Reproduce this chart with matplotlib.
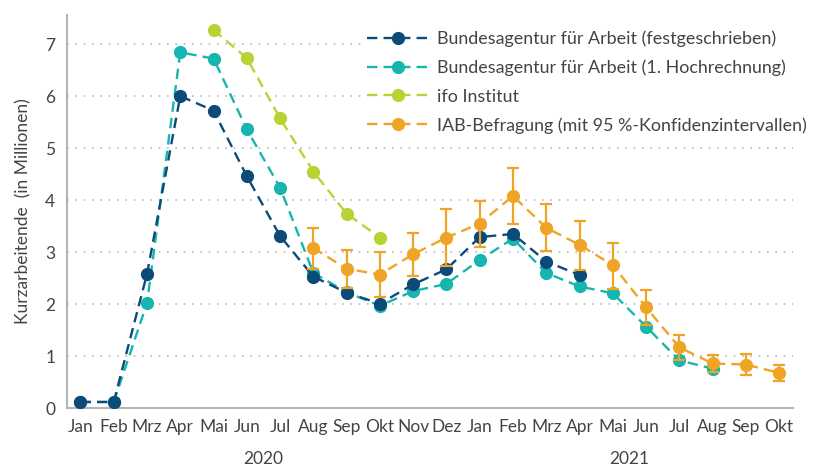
import numpy as np
import matplotlib.pyplot as plt
from matplotlib import transforms

plt.rcParams['font.family'] = ['Lato', 'DejaVu Sans']

# Monate Jan 2020 bis Okt 2021
months = ['Jan', 'Feb', 'Mrz', 'Apr', 'Mai', 'Jun', 'Jul', 'Aug', 'Sep', 'Okt', 'Nov', 'Dez',
          'Jan', 'Feb', 'Mrz', 'Apr', 'Mai', 'Jun', 'Jul', 'Aug', 'Sep', 'Okt']
years = ['2020', '2021']
year_centers = [5.5, 16.5]

# Bundesagentur für Arbeit (festgeschrieben), Jan 2020 - Apr 2021
ba_fest = [0.12, 0.12, 2.58, 6.0, 5.72, 4.46, 3.31, 2.53, 2.22, 2.01, 2.38, 2.67,
           3.29, 3.35, 2.82, 2.56]
# Bundesagentur für Arbeit (1. Hochrechnung), Jan 2020 - Aug 2021
ba_hoch = [0.12, 0.12, 2.02, 6.84, 6.72, 5.36, 4.24, 2.6, 2.23, 1.97, 2.25, 2.39,
           2.85, 3.26, 2.6, 2.34, 2.21, 1.57, 0.92, 0.76]
# ifo Institut, Mai - Okt 2020
ifo = [7.27, 6.73, 5.57, 4.55, 3.74, 3.28]
ifo_start = 4
# IAB-Befragung, Aug 2020 - Okt 2021
iab = [3.08, 2.68, 2.57, 2.96, 3.28, 3.55, 4.08, 3.47, 3.14, 2.75, 1.94, 1.17, 0.86, 0.84, 0.68]
iab_lo = [2.68, 2.31, 2.14, 2.54, 2.73, 3.1, 3.54, 3.03, 2.66, 2.3, 1.59, 0.93, 0.69, 0.64, 0.52]
iab_hi = [3.47, 3.05, 3.01, 3.37, 3.83, 3.98, 4.62, 3.92, 3.6, 3.18, 2.27, 1.4, 1.03, 1.05, 0.84]
iab_start = 7

c_navy = '#0c4a78'
c_teal = '#17b5af'
c_lime = '#b7d334'
c_orange = '#f0a425'
dash = (0, (4.4, 2.6))

fig, ax = plt.subplots(figsize=(8.21, 4.66), dpi=100)
fig.subplots_adjust(left=0.081, right=0.966, top=0.968, bottom=0.124)

x = np.arange(len(months))

ax.plot(x[:len(ba_hoch)], ba_hoch, linestyle=dash, color=c_teal, lw=1.7, marker='o', ms=8.5,
        label='Bundesagentur für Arbeit (1. Hochrechnung)', zorder=3)
ax.plot(x[:len(ba_fest)], ba_fest, linestyle=dash, color=c_navy, lw=1.7, marker='o', ms=8.5,
        label='Bundesagentur für Arbeit (festgeschrieben)', zorder=4)
ax.plot(x[ifo_start:ifo_start + len(ifo)], ifo, linestyle=dash, color=c_lime, lw=1.7,
        marker='o', ms=8.5, label='ifo Institut', zorder=4)

iab_x = x[iab_start:iab_start + len(iab)]
iab_arr = np.array(iab)
yerr = [iab_arr - np.array(iab_lo), np.array(iab_hi) - iab_arr]
ax.errorbar(iab_x, iab, yerr=yerr, fmt='none', ecolor=c_orange, elinewidth=1.6,
            capsize=4.5, capthick=1.6, zorder=5)
ax.plot(iab_x, iab, linestyle=dash, color=c_orange, lw=1.7, marker='o', ms=8.5,
        label='IAB-Befragung (mit 95 %-Konfidenzintervallen)', zorder=5)

ax.set_xlim(-0.42, 21.42)
ax.set_ylim(0, 7.56)
ax.set_xticks(x)
ax.set_xticklabels(months)
ax.set_yticks(range(8))
ax.tick_params(length=0, labelsize=12.5, colors='#444444', pad=8)
ax.set_ylabel('Kurzarbeitende  (in Millionen)', fontsize=12.5, color='#444444', labelpad=10)

for y in range(1, 8):
    ax.axhline(y, color='#b8b8b8', lw=1.2, linestyle=(0, (1, 4)), zorder=1)

for s in ['top', 'right']:
    ax.spines[s].set_visible(False)
for s in ['left', 'bottom']:
    ax.spines[s].set_color('#b5b5b5')
    ax.spines[s].set_linewidth(1.5)

trans = transforms.blended_transform_factory(ax.transData, ax.transAxes)
for label, xc in zip(years, year_centers):
    ax.text(xc, -0.128, label, transform=trans, ha='center', va='center',
            fontsize=12.5, color='#444444')

handles, labels = ax.get_legend_handles_labels()
order = [1, 0, 2, 3]
leg = ax.legend([handles[i] for i in order], [labels[i] for i in order],
                loc='upper right', bbox_to_anchor=(1.039, 0.997), frameon=True,
                facecolor='white', edgecolor='none', framealpha=1, fontsize=12.9,
                handlelength=3.5, handletextpad=0.45, labelspacing=0.7, borderpad=0.3)
for t in leg.get_texts():
    t.set_color('#444444')
leg.set_zorder(10)

fig.savefig('out.png', dpi=100)
